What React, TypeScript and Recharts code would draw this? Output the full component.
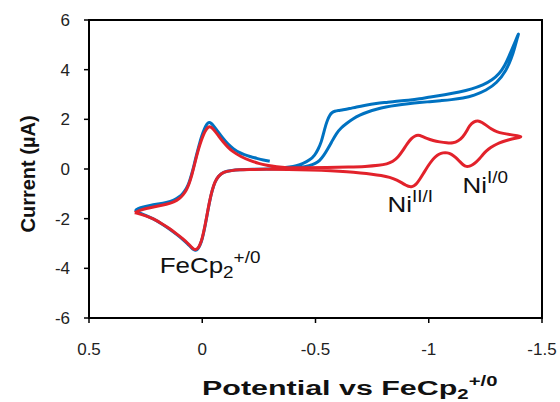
import React from 'react'
import { LineChart, Line, XAxis, YAxis, ReferenceArea, ReferenceDot } from 'recharts'

// potential (V vs Fc) / current (uA) pairs
const blueFcForward: [number, number][] = [
  [-0.298, 0.31], [-0.27, 0.36], [-0.24, 0.43], [-0.21, 0.5], [-0.185, 0.58], [-0.165, 0.65],
  [-0.136, 0.82], [-0.113, 1.0], [-0.09, 1.25], [-0.07, 1.5], [-0.05, 1.74], [-0.04, 1.84],
  [-0.03, 1.89], [-0.02, 1.82], [-0.01, 1.63], [0.004, 1.3], [0.015, 0.92], [0.026, 0.55],
  [0.037, 0.12], [0.048, -0.25], [0.058, -0.55], [0.07, -0.8], [0.085, -0.98], [0.1, -1.12],
  [0.125, -1.26], [0.158, -1.35], [0.195, -1.41], [0.232, -1.47], [0.26, -1.53], [0.285, -1.6],
  [0.298, -1.66],
]
const blueFcReturn: [number, number][] = [
  [0.285, -1.74], [0.25, -1.86], [0.217, -2.0], [0.18, -2.2], [0.144, -2.42], [0.115, -2.62],
  [0.085, -2.84], [0.065, -3.01], [0.048, -3.17], [0.038, -3.25], [0.029, -3.28], [0.02, -3.24],
  [0.011, -3.1], [0.0, -2.83], [-0.011, -2.37], [-0.022, -1.82], [-0.033, -1.28], [-0.044, -0.86],
  [-0.055, -0.53], [-0.072, -0.28], [-0.092, -0.12], [-0.13, -0.05], [-0.165, -0.03], [-0.22, -0.01],
  [-0.3, 0.0], [-0.38, 0.03],
]
const blueCatOut: [number, number][] = [
  [-0.43, 0.06], [-0.474, 0.13], [-0.5, 0.22], [-0.518, 0.33], [-0.537, 0.55], [-0.555, 0.82],
  [-0.573, 1.12], [-0.592, 1.43], [-0.613, 1.66], [-0.636, 1.83], [-0.665, 2.02], [-0.695, 2.17],
  [-0.73, 2.3], [-0.769, 2.41], [-0.81, 2.5], [-0.857, 2.57], [-0.91, 2.63], [-0.96, 2.68],
  [-1.004, 2.71], [-1.05, 2.75], [-1.1, 2.79], [-1.151, 2.85], [-1.2, 2.96], [-1.254, 3.17],
  [-1.3, 3.45], [-1.343, 3.98], [-1.365, 4.45], [-1.38, 4.9], [-1.39, 5.25], [-1.398, 5.48],
]
const blueCatBack: [number, number][] = [
  [-1.393, 5.38], [-1.383, 5.15], [-1.372, 4.92], [-1.355, 4.55], [-1.335, 4.15], [-1.313, 3.85],
  [-1.28, 3.58], [-1.24, 3.38], [-1.19, 3.22], [-1.137, 3.1], [-1.07, 2.99], [-1.004, 2.9],
  [-0.96, 2.82], [-0.91, 2.77], [-0.857, 2.73], [-0.81, 2.68], [-0.769, 2.64], [-0.72, 2.57],
  [-0.68, 2.5], [-0.65, 2.43], [-0.621, 2.38], [-0.6, 2.36], [-0.585, 2.33], [-0.572, 2.27],
  [-0.563, 2.17], [-0.553, 1.98], [-0.545, 1.76], [-0.536, 1.45], [-0.526, 1.09], [-0.512, 0.8],
  [-0.497, 0.55], [-0.475, 0.36], [-0.445, 0.22], [-0.415, 0.13], [-0.386, 0.08], [-0.35, 0.04],
  [-0.31, 0.02],
]

const redForward: [number, number][] = [
  [0.298, -1.76], [0.285, -1.7], [0.26, -1.62], [0.232, -1.56], [0.195, -1.49], [0.158, -1.42],
  [0.125, -1.33], [0.1, -1.19], [0.085, -1.05], [0.07, -0.86], [0.058, -0.6], [0.048, -0.32],
  [0.037, 0.08], [0.026, 0.48], [0.015, 0.85], [0.004, 1.16], [-0.006, 1.4], [-0.015, 1.56],
  [-0.025, 1.68], [-0.033, 1.72], [-0.042, 1.67], [-0.055, 1.54], [-0.072, 1.33], [-0.092, 1.09],
  [-0.113, 0.88], [-0.136, 0.69], [-0.17, 0.5], [-0.21, 0.34], [-0.25, 0.22], [-0.283, 0.15],
  [-0.33, 0.08], [-0.371, 0.05], [-0.45, 0.05], [-0.55, 0.06], [-0.65, 0.08], [-0.72, 0.1],
  [-0.783, 0.15], [-0.815, 0.2], [-0.842, 0.3], [-0.865, 0.48], [-0.886, 0.75], [-0.905, 1.02],
  [-0.923, 1.23], [-0.938, 1.33], [-0.953, 1.37], [-0.97, 1.32], [-0.99, 1.23], [-1.02, 1.14],
  [-1.048, 1.09], [-1.08, 1.05], [-1.107, 1.04], [-1.13, 1.12], [-1.151, 1.29], [-1.167, 1.52],
  [-1.181, 1.76], [-1.198, 1.9], [-1.217, 1.96], [-1.235, 1.88], [-1.254, 1.76], [-1.275, 1.62],
  [-1.299, 1.5], [-1.33, 1.43], [-1.357, 1.39], [-1.385, 1.35], [-1.4, 1.32], [-1.41, 1.3],
]
const redReturn: [number, number][] = [
  [-1.4, 1.27], [-1.385, 1.24], [-1.355, 1.18], [-1.325, 1.1], [-1.299, 1.0], [-1.275, 0.88],
  [-1.254, 0.73], [-1.238, 0.57], [-1.225, 0.42], [-1.21, 0.28], [-1.195, 0.18], [-1.18, 0.11],
  [-1.166, 0.09], [-1.152, 0.16], [-1.137, 0.3], [-1.118, 0.48], [-1.1, 0.6], [-1.082, 0.66],
  [-1.063, 0.66], [-1.045, 0.6], [-1.03, 0.5], [-1.019, 0.4], [-1.0, 0.17], [-0.985, -0.05],
  [-0.975, -0.2], [-0.96, -0.42], [-0.946, -0.6], [-0.935, -0.68], [-0.923, -0.72], [-0.91, -0.7],
  [-0.897, -0.65], [-0.886, -0.58], [-0.86, -0.45], [-0.828, -0.33], [-0.79, -0.26], [-0.75, -0.21],
  [-0.7, -0.16], [-0.64, -0.11], [-0.57, -0.07], [-0.48, -0.04], [-0.38, -0.02], [-0.28, -0.01],
  [-0.2, -0.02], [-0.165, -0.03], [-0.13, -0.06], [-0.092, -0.12], [-0.072, -0.28], [-0.055, -0.52],
  [-0.044, -0.85], [-0.033, -1.26], [-0.022, -1.8], [-0.011, -2.34], [0.0, -2.8], [0.011, -3.08],
  [0.02, -3.2], [0.029, -3.25], [0.038, -3.23], [0.048, -3.14], [0.065, -2.98], [0.085, -2.81],
  [0.115, -2.6], [0.144, -2.4], [0.18, -2.19], [0.217, -2.0], [0.25, -1.88], [0.28, -1.8],
  [0.298, -1.76],
]

const xTicks = [0.5, 0, -0.5, -1, -1.5]
const yTicks = [-6, -4, -2, 0, 2, 4, 6]

const toPts = (pairs: [number, number][]) => pairs.map(([v, i]) => ({ v, i }))

const blueData = toPts([...blueFcForward, ...blueFcReturn, ...blueCatOut, ...blueCatBack])
const redData = toPts([...redForward, ...redReturn])

const FONT = 'Arial, "Liberation Sans", sans-serif'
const BLUE = '#0072C1'
const RED = '#E2222B'

// the source figure's text is a little wider than plain Arial, hence the scaleX
const Anno = ({ viewBox, main, sub, sup }: any) => {
  if (!viewBox) return null
  return (
    <text transform={`translate(${viewBox.x}, ${viewBox.y}) scale(1.18, 1)`} x={0} y={0} fontFamily={FONT} fontSize={22} fill="#111">
      {main}
      {sub && <tspan dy={5} fontSize={16}>{sub}</tspan>}
      <tspan dy={sub ? -15 : -10} fontSize={16}>{sup}</tspan>
    </text>
  )
}

const XLabel = ({ viewBox }: any) => {
  if (!viewBox) return null
  return (
    <text transform={`translate(${viewBox.x + 113}, ${viewBox.y + 77}) scale(1.45, 1)`} x={0} y={0} fontFamily={FONT} fontSize={21} fontWeight="bold" fill="#111">
      Potential vs FeCp
      <tspan dy={4} fontSize={14}>2</tspan>
      <tspan dy={-13} fontSize={14}>+/0</tspan>
    </text>
  )
}

const YLabel = ({ viewBox }: any) => {
  if (!viewBox) return null
  const cx = 35
  const cy = viewBox.y + viewBox.height / 2 + 5
  return (
    <text x={cx} y={cy} transform={`rotate(-90, ${cx}, ${cy})`} textAnchor="middle" fontFamily={FONT} fontSize={20} fontWeight="bold" fill="#111">
      Current (µA)
    </text>
  )
}

export default function App() {
  return (
    <div style={{ position: 'absolute', left: 0, top: 0, width: 560, height: 402, background: '#fff' }}>
      <LineChart width={560} height={402} margin={{ top: 20, right: 18, bottom: 0, left: 0 }}>
        <XAxis
          type="number"
          dataKey="v"
          domain={[-1.5, 0.5]}
          ticks={xTicks}
          reversed
          allowDataOverflow
          height={84}
          tickSize={5}
          tickMargin={20}
          axisLine={{ stroke: '#000', strokeWidth: 2 }}
          tickLine={{ stroke: '#000', strokeWidth: 1.5 }}
          tick={{ fill: '#222', fontSize: 17, fontFamily: FONT }}
          label={{ content: (p: any) => <XLabel {...p} /> }}
        />
        <YAxis
          type="number"
          dataKey="i"
          domain={[-6, 6]}
          ticks={yTicks}
          allowDataOverflow
          width={89}
          tickSize={5}
          tickMargin={14}
          axisLine={{ stroke: '#000', strokeWidth: 2 }}
          tickLine={{ stroke: '#000', strokeWidth: 1.5 }}
          tick={{ fill: '#222', fontSize: 17, fontFamily: FONT }}
          label={{ content: (p: any) => <YLabel {...p} /> }}
        />
        <ReferenceArea x1={0.5} x2={-1.5} y1={-6} y2={6} fill="none" stroke="#000" strokeWidth={2} fillOpacity={0} />
        <Line data={blueData} dataKey="i" type="basis" stroke={BLUE} strokeWidth={3} dot={false} isAnimationActive={false} />
        <Line data={redData} dataKey="i" type="basis" stroke={RED} strokeWidth={3} dot={false} isAnimationActive={false} />
        <ReferenceDot x={0.188} y={-4.17} r={0} fill="none" stroke="none" label={{ content: (p: any) => <Anno {...p} main="FeCp" sub="2" sup="+/0" /> }} />
        <ReferenceDot x={-0.818} y={-1.75} r={0} fill="none" stroke="none" label={{ content: (p: any) => <Anno {...p} main="Ni" sup="II/I" /> }} />
        <ReferenceDot x={-1.149} y={-0.98} r={0} fill="none" stroke="none" label={{ content: (p: any) => <Anno {...p} main="Ni" sup="I/0" /> }} />
      </LineChart>
    </div>
  )
}
